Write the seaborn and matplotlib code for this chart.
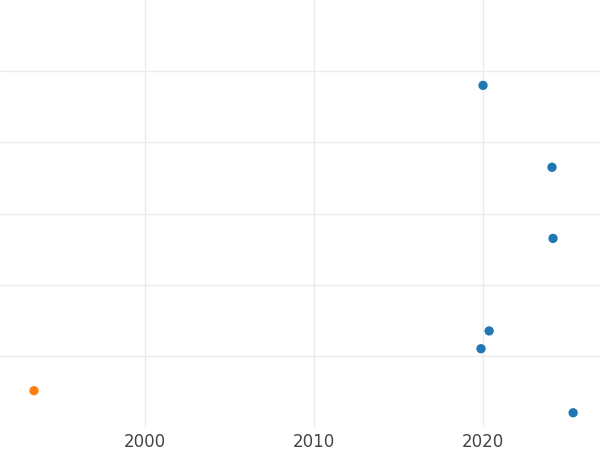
import matplotlib
matplotlib.use("Agg")
import matplotlib.pyplot as plt
import pandas as pd
import seaborn as sns

# values
years = [2020.00, 2024.08, 2024.14, 2020.36, 2019.88, 1993.43, 2025.33]
values = [4.80, 3.65, 2.65, 1.35, 1.10, 0.51, 0.20]
groups = ["a", "a", "a", "a", "a", "b", "a"]
xticks = [2000, 2010, 2020]

df = pd.DataFrame({"year": years, "value": values, "group": groups})

sns.set_style("whitegrid")
plt.rcParams["font.family"] = ["DejaVu Sans"]

fig = plt.figure(figsize=(6, 4.5), dpi=100)
ax = fig.add_axes([0, 1 - 427 / 450, 1, 427 / 450])
sns.scatterplot(data=df, x="year", y="value", hue="group",
                palette={"a": "#1f77b4", "b": "#ff7f0e"},
                s=45, edgecolor="none", legend=False, ax=ax)

ax.set_xlim(1991.42, 2026.92)
ax.set_ylim(0, 6)
ax.set_xticks(xticks)
ax.set_xticklabels([str(t) for t in xticks], fontsize=12, color="#444444")
ax.set_yticks([1, 2, 3, 4, 5])
ax.set_yticklabels([])
ax.tick_params(length=0, pad=4)
ax.grid(color="#ebebeb", linewidth=1)
for s in ax.spines.values():
    s.set_visible(False)
ax.set_xlabel("")
ax.set_ylabel("")

fig.savefig("out.png", dpi=100)
